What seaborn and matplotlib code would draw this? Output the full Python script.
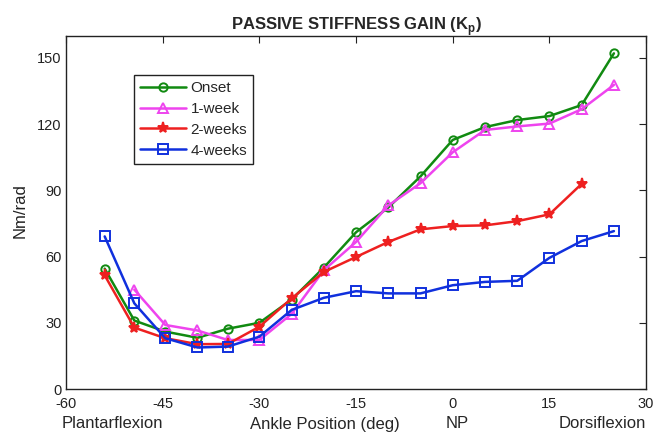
import matplotlib
matplotlib.use("Agg")
import matplotlib.pyplot as plt
import seaborn as sns
import pandas as pd

# ankle angle (deg) for each measurement
angles = [-54, -49.4, -44.6, -39.6, -34.9, -30, -25, -20, -15, -10, -5, 0, 5, 10, 15, 20, 25]

onset = [54.5, 31, 26, 23.2, 27.3, 30, 40.5, 55, 71, 82.2, 96.3, 112.8, 118.6, 121.8, 123.6, 128.6, 152]
week1 = [None, 45, 29, 26.5, 22.2, 22.2, 34, 53.8, 66.6, 83.1, 93.2, 107.2, 117.3, 118.9, 120.2, 126.7, 137.7]
week2 = [51.5, 27.8, 23, 20.3, 20.4, 28.2, 41, 53, 59.8, 66.6, 72.3, 73.8, 74.1, 76, 79.1, 92.9, None]
week4 = [69.1, 38.8, 23, 18.8, 19.2, 23.7, 35.8, 41.3, 44.3, 43.3, 43.3, 47, 48.5, 49, 59.4, 67, 71.5]

series_names = ["Onset", "1-week", "2-weeks", "4-weeks"]
series_vals = [onset, week1, week2, week4]
colors = ["#118a11", "#ee44ee", "#ee2020", "#1030dd"]
markers = ["o", "^", "*", "s"]
msizes = [6, 7, 8, 7]

x_ticks = [-60, -45, -30, -15, 0, 15, 30]
y_ticks = [0, 30, 60, 90, 120, 150]

sns.set_style("white")
plt.rcParams["font.family"] = ["Liberation Sans", "DejaVu Sans"]
plt.rcParams["axes.unicode_minus"] = False
plt.rcParams["mathtext.fontset"] = "custom"
plt.rcParams["mathtext.bf"] = "Liberation Sans:bold"
plt.rcParams["mathtext.rm"] = "Liberation Sans"

fig = plt.figure(figsize=(6.6, 4.33), dpi=100)
ax = fig.add_axes([0.1, 0.1016, 0.879, 0.816])

for name, vals, c, m, ms in zip(series_names, series_vals, colors, markers, msizes):
    df = pd.DataFrame({"angle": angles, "value": vals}).dropna()
    filled = c if m == "*" else "none"
    sns.lineplot(data=df, x="angle", y="value", ax=ax, color=c, linewidth=1.8,
                 marker=m, markersize=ms, markerfacecolor=filled,
                 markeredgecolor=c, markeredgewidth=1.4, label=name)

ax.set_xlim(-60, 30)
ax.set_ylim(0, 160)
ax.set_xticks(x_ticks)
ax.set_yticks(y_ticks)
ax.tick_params(direction="in", length=5, width=0.8, top=True, right=True,
               labelsize=10.5, colors="#222222", pad=3)
ax.tick_params(axis="x", pad=5.5)
for s in ax.spines.values():
    s.set_color("#222222")
    s.set_linewidth(1.0)

ax.set_xlabel("")
ax.set_ylabel("")
fig.text(20 / 660, 1 - 211 / 433, "Nm/rad", fontsize=12, rotation=90,
         ha="center", va="center", color="#222222")
ax.set_title(r"PASSIVE STIFFNESS GAIN (K$_{\mathbf{p}}$)", fontsize=12,
             fontweight="bold", pad=4)

leg = ax.legend(loc="upper left", bbox_to_anchor=(0.117, 0.889), fontsize=11,
                frameon=True, fancybox=False, handlelength=3.0, borderpad=0.4,
                labelspacing=0.45, handletextpad=0.3, borderaxespad=0)
leg.get_frame().set_edgecolor("#222222")
leg.get_frame().set_linewidth(1.0)
leg.get_frame().set_alpha(1)

# bottom caption line, MATLAB style
ty = 1 - 424 / 433
fig.text(62 / 660, ty, "Plantarflexion", fontsize=12, ha="left", va="center")
fig.text(325 / 660, ty, "Ankle Position (deg)", fontsize=12, ha="center", va="center")
fig.text(457 / 660, ty, "NP", fontsize=12, ha="center", va="center")
fig.text(646 / 660, ty, "Dorsiflexion", fontsize=12, ha="right", va="center")

fig.savefig("out.png", dpi=100)
